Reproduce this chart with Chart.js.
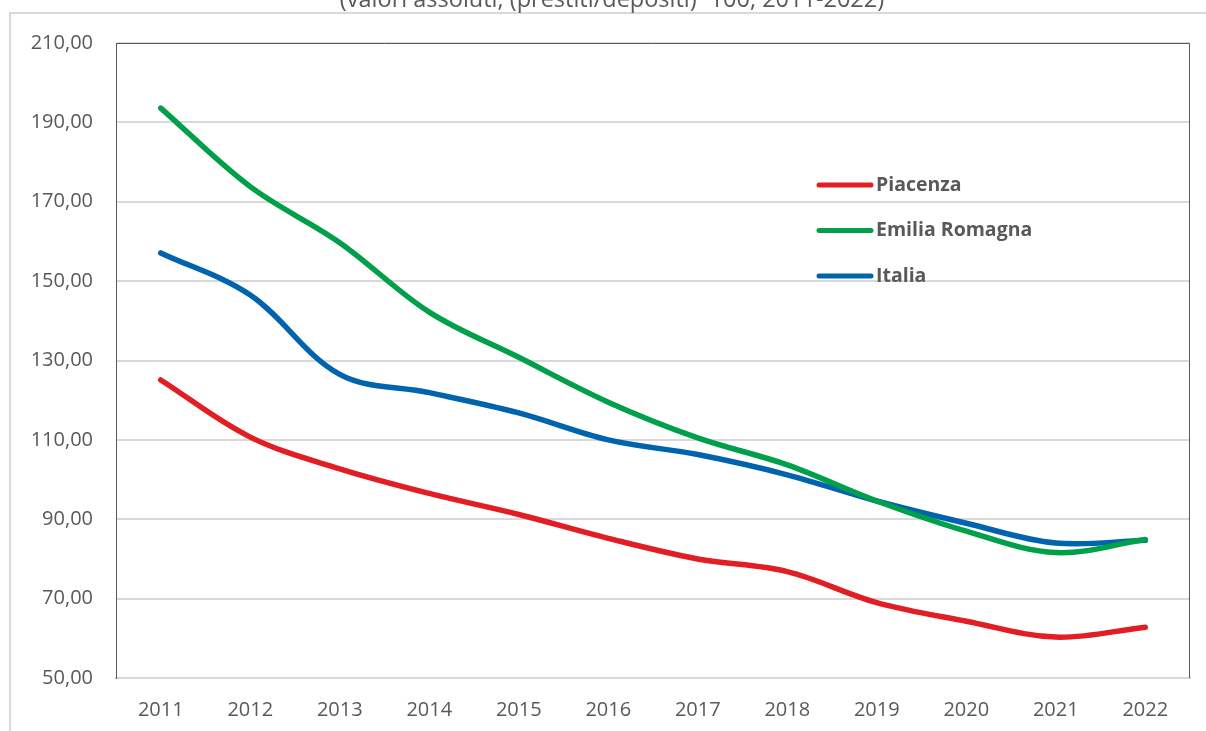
<!DOCTYPE html>
<html>
<head>
<meta charset="utf-8">
<script src="https://cdn.jsdelivr.net/npm/chart.js@4.4.1/dist/chart.umd.min.js"></script>
<style>
    html, body { margin: 0; padding: 0; background: #ffffff; }
    #wrap { position: relative; width: 1206px; height: 731px; }
</style>
</head>
<body>
<div id="wrap"><canvas id="chart" width="1206" height="731"></canvas></div>
<script>
// Rapporto prestiti/depositi
const years = ['2011', '2012', '2013', '2014', '2015', '2016', '2017', '2018', '2019', '2020', '2021', '2022'];
const piacenza = [125.1, 110.7, 102.7, 96.5, 91.2, 85.2, 80.0, 76.8, 69.0, 64.3, 60.3, 62.8];
const emiliaRomagna = [193.6, 173.8, 159.7, 142.2, 130.8, 119.5, 110.5, 103.7, 94.6, 87.0, 81.6, 84.9];
const italia = [157.1, 146.5, 126.5, 121.9, 116.8, 110.0, 106.3, 101.2, 94.6, 89.0, 84.0, 84.7];
const yTicks = [50, 70, 90, 110, 130, 150, 170, 190, 210];
const titleText = '(valori assoluti, (prestiti/depositi)*100, 2011-2022)';

const textColor = '#595959';
const gridColor = '#d9d9d9';
const fontFamily = "'Open Sans', 'Liberation Sans', sans-serif";

// Frame, title and legend drawn on the canvas
const decorPlugin = {
    id: 'decor',
    beforeDraw(chart) {
        const c = chart.ctx;
        c.save();
        c.strokeStyle = gridColor;
        c.lineWidth = 2;
        c.beginPath();
        c.moveTo(10, 731);
        c.lineTo(10, 13);
        c.lineTo(1206, 13);
        c.stroke();

        c.fillStyle = textColor;
        c.font = '23.5px ' + fontFamily;
        c.textAlign = 'center';
        c.textBaseline = 'alphabetic';
        c.fillText(titleText, 612, 7);
        c.restore();
    },
    afterDraw(chart) {
        const c = chart.ctx;
        const area = chart.chartArea;
        c.save();
        // plot area border (top and right)
        c.strokeStyle = '#595959';
        c.lineWidth = 1;
        c.beginPath();
        c.moveTo(area.left, area.top + 0.5);
        c.lineTo(area.right - 0.5, area.top + 0.5);
        c.lineTo(area.right - 0.5, area.bottom);
        c.stroke();

        // legend inside the plot
        c.font = 'bold 19.5px ' + fontFamily;
        c.textAlign = 'left';
        c.textBaseline = 'middle';
        c.lineCap = 'round';
        chart.data.datasets.forEach((ds, i) => {
            const y = 185 + i * 45.5;
            c.strokeStyle = ds.borderColor;
            c.lineWidth = 5;
            c.beginPath();
            c.moveTo(819, y);
            c.lineTo(871, y);
            c.stroke();
            c.fillStyle = textColor;
            c.fillText(ds.label, 876, y);
        });
        c.restore();
    }
};

const lineStyle = {
    borderWidth: 5.5,
    pointRadius: 0,
    tension: 0.35,
    fill: false,
    borderCapStyle: 'round',
    borderJoinStyle: 'round'
};

new Chart(document.getElementById('chart'), {
    type: 'line',
    data: {
        labels: years,
        datasets: [
            { label: 'Piacenza', data: piacenza, borderColor: '#e21d24', ...lineStyle },
            { label: 'Emilia Romagna', data: emiliaRomagna, borderColor: '#00a04a', ...lineStyle },
            { label: 'Italia', data: italia, borderColor: '#0063ae', ...lineStyle }
        ]
    },
    options: {
        responsive: false,
        animation: false,
        layout: {
            padding: { left: 0, right: 16, top: 43, bottom: 0 }
        },
        plugins: {
            legend: { display: false },
            title: { display: false },
            tooltip: { enabled: false }
        },
        scales: {
            x: {
                offset: true,
                afterFit(scale) { scale.height = 53; },
                grid: { display: false, drawTicks: false },
                border: { display: true, color: gridColor, width: 2 },
                ticks: {
                    color: textColor,
                    padding: 20,
                    font: { family: fontFamily, size: 20 }
                }
            },
            y: {
                min: 50,
                max: 210,
                afterFit(scale) { scale.width = 116; },
                afterBuildTicks(scale) {
                    scale.ticks = yTicks.map(v => ({ value: v }));
                },
                grid: { color: gridColor, lineWidth: 2, drawTicks: false },
                border: { display: true, color: '#595959', width: 1 },
                ticks: {
                    color: textColor,
                    padding: 23,
                    font: { family: fontFamily, size: 20 },
                    callback: function (value) {
                        return value.toFixed(2).replace('.', ',');
                    }
                }
            }
        }
    },
    plugins: [decorPlugin]
});
</script>
</body>
</html>
